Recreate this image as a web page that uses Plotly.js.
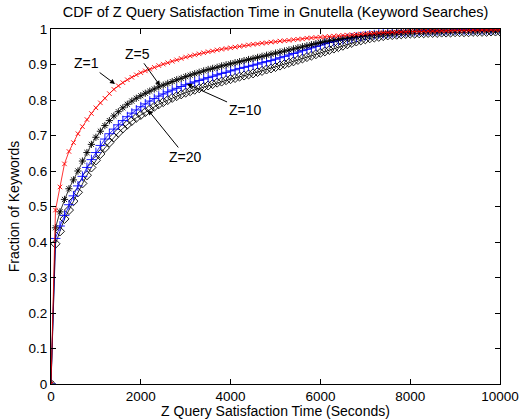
<!DOCTYPE html>
<html>
<head>
<meta charset="utf-8">
<script src="https://cdn.plot.ly/plotly-3.0.1.min.js"></script>
<style>html,body{margin:0;padding:0;background:#fff;}#chart{width:520px;height:419px;}</style>
</head>
<body>
<div id="chart"></div>
<script>
// Time (seconds)
var times = [0,100,200,300,400,500,600,700,800,900,1000,1100,1200,1300,1400,1500,1600,1700,1800,1900,
2000,2100,2200,2300,2400,2500,2600,2700,2800,2900,3000,3100,3200,3300,3400,3500,3600,3700,3800,3900,
4000,4100,4200,4300,4400,4500,4600,4700,4800,4900,5000,5100,5200,5300,5400,5500,5600,5700,5800,5900,
6000,6100,6200,6300,6400,6500,6600,6700,6800,6900,7000,7100,7200,7300,7400,7500,7600,7700,7800,7900,
8000,8100,8200,8300,8400,8500,8600,8700,8800,8900,9000,9100,9200,9300,9400,9500,9600,9700,9800,9900,10000];

var z1 = [0,0.49,0.555,0.62,0.655,0.68,0.705,0.725,0.745,0.762,0.778,0.792,0.805,0.818,0.83,0.84,0.849,0.857,0.864,0.871,
0.877,0.882,0.887,0.892,0.897,0.901,0.905,0.909,0.913,0.917,0.921,0.924,0.927,0.930,0.933,0.936,0.938,0.941,0.943,0.945,
0.947,0.949,0.951,0.953,0.955,0.957,0.958,0.960,0.961,0.963,0.964,0.966,0.967,0.968,0.970,0.971,0.972,0.974,0.975,0.976,
0.977,0.978,0.979,0.980,0.981,0.982,0.983,0.984,0.985,0.986,0.987,0.988,0.988,0.989,0.990,0.990,0.991,0.991,0.992,0.992,
0.993,0.993,0.993,0.994,0.994,0.994,0.995,0.995,0.995,0.995,0.996,0.996,0.996,0.996,0.997,0.997,0.997,0.997,0.998,0.998,0.998];

var z5 = [0,0.44,0.485,0.52,0.55,0.575,0.60,0.628,0.652,0.675,0.695,0.712,0.728,0.742,0.755,0.767,0.778,0.788,0.797,0.805,
0.812,0.819,0.825,0.831,0.837,0.842,0.847,0.852,0.857,0.861,0.866,0.870,0.874,0.878,0.882,0.886,0.889,0.892,0.896,0.899,
0.902,0.905,0.908,0.911,0.914,0.917,0.920,0.923,0.926,0.929,0.932,0.935,0.938,0.941,0.944,0.947,0.950,0.953,0.956,0.959,
0.962,0.965,0.967,0.969,0.971,0.973,0.975,0.977,0.979,0.980,0.982,0.983,0.985,0.986,0.987,0.988,0.989,0.990,0.991,0.992,
0.992,0.993,0.993,0.993,0.994,0.994,0.994,0.995,0.995,0.995,0.995,0.996,0.996,0.996,0.996,0.996,0.997,0.997,0.997,0.997,0.997];

var z10 = [0,0.41,0.445,0.475,0.505,0.53,0.558,0.585,0.61,0.632,0.652,0.672,0.69,0.705,0.718,0.73,0.742,0.753,0.763,0.772,
0.781,0.789,0.797,0.804,0.811,0.817,0.823,0.828,0.833,0.838,0.843,0.847,0.851,0.855,0.859,0.863,0.867,0.871,0.875,0.878,
0.882,0.885,0.889,0.892,0.895,0.898,0.901,0.905,0.908,0.911,0.915,0.919,0.923,0.927,0.931,0.935,0.939,0.943,0.947,0.951,
0.955,0.959,0.962,0.965,0.968,0.971,0.973,0.975,0.977,0.979,0.981,0.983,0.984,0.986,0.987,0.988,0.989,0.990,0.991,0.992,
0.993,0.993,0.994,0.994,0.995,0.995,0.995,0.996,0.996,0.996,0.997,0.997,0.997,0.997,0.998,0.998,0.998,0.998,0.998,0.999,0.999];

var z20 = [0,0.395,0.43,0.465,0.49,0.515,0.54,0.565,0.588,0.61,0.63,0.648,0.665,0.68,0.695,0.708,0.72,0.731,0.741,0.75,
0.758,0.766,0.774,0.781,0.788,0.794,0.80,0.806,0.811,0.816,0.821,0.825,0.829,0.833,0.837,0.841,0.845,0.849,0.852,0.856,
0.859,0.862,0.866,0.869,0.872,0.875,0.879,0.882,0.886,0.889,0.893,0.897,0.901,0.905,0.909,0.913,0.917,0.921,0.925,0.929,
0.933,0.937,0.941,0.945,0.949,0.953,0.957,0.961,0.965,0.968,0.971,0.974,0.976,0.978,0.980,0.982,0.983,0.984,0.985,0.986,
0.987,0.987,0.988,0.988,0.989,0.989,0.989,0.990,0.990,0.990,0.991,0.991,0.991,0.991,0.992,0.992,0.992,0.992,0.993,0.993,0.993];

var xTicks = [0,2000,4000,6000,8000,10000];
var yTicks = [0,0.1,0.2,0.3,0.4,0.5,0.6,0.7,0.8,0.9,1];
var yTickText = ['0','0.1','0.2','0.3','0.4','0.5','0.6','0.7','0.8','0.9','1'];

var FONT = 'Liberation Sans, Arial, Helvetica, sans-serif';

function tr(y, color, symbol, size, name) {
  return {x: times, y: y, mode: 'lines+markers', name: name,
    line: {color: color, width: 0.8},
    marker: {symbol: symbol, size: size, color: color, line: {color: color, width: 0.9}}};
}
var data = [
  tr(z20, '#000000', 'diamond-open', 7, 'Z=20'),
  tr(z10, '#0000ff', 'cross-thin-open', 7, 'Z=10'),
  tr(z5, '#000000', 'asterisk-open', 6, 'Z=5'),
  tr(z1, '#ff0000', 'x-thin-open', 4.5, 'Z=1')
];

function ann(text, x, y, ax, ay) {
  return {x: x, y: y, xref: 'x', yref: 'y', text: text, showarrow: true,
    arrowhead: 2, arrowsize: 1, arrowwidth: 1, arrowcolor: '#000', ax: ax, ay: ay,
    font: {family: FONT, size: 14, color: '#000'}, standoff: 0};
}

var layout = {
  width: 520, height: 419,
  margin: {l: 51, r: 20, t: 29, b: 35},
  paper_bgcolor: '#fff', plot_bgcolor: '#fff',
  showlegend: false,
  font: {family: FONT, size: 13, color: '#000'},
  title: {text: 'CDF of Z Query Satisfaction Time in Gnutella (Keyword Searches)',
    font: {family: FONT, size: 14.5, color: '#000'}, x: 0.53, xanchor: 'center', y: 0.972, yanchor: 'middle'},
  xaxis: {range: [0, 10000], tickvals: xTicks, ticktext: xTicks.map(String),
    ticks: 'inside', ticklen: 5, tickcolor: '#000', showgrid: false, zeroline: false,
    showline: true, linecolor: '#000', linewidth: 1, mirror: 'allticks',
    tickfont: {family: FONT, size: 13.5}, ticklabelstandoff: 0,
    title: {text: 'Z Query Satisfaction Time (Seconds)', font: {family: FONT, size: 14}, standoff: 1}},
  yaxis: {range: [0, 1], tickvals: yTicks, ticktext: yTickText,
    ticks: 'inside', ticklen: 5, tickcolor: '#000', showgrid: false, zeroline: false,
    showline: true, linecolor: '#000', linewidth: 1, mirror: 'allticks',
    tickfont: {family: FONT, size: 13.5},
    title: {text: 'Fraction of Keywords', font: {family: FONT, size: 14}, standoff: 5}},
  annotations: [
    ann('Z=1', 1425, 0.845, -28, -21),
    ann('Z=5', 2430, 0.84, -23, -32),
    ann('Z=10', 3030, 0.845, 58, 26),
    ann('Z=20', 2160, 0.772, 38, 47)
  ]
};

Plotly.newPlot('chart', data, layout, {displayModeBar: false, staticPlot: true});
</script>
</body>
</html>
